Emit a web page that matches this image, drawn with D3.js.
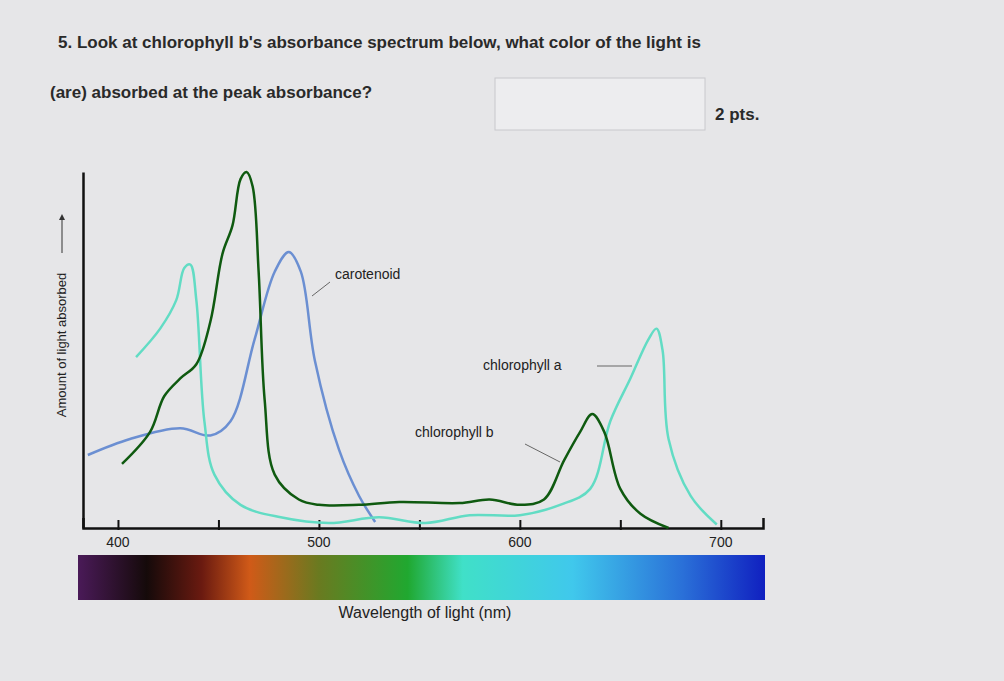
<!DOCTYPE html>
<html><head><meta charset="utf-8">
<script src="https://cdn.jsdelivr.net/npm/d3@7"></script>
<style>body{margin:0;background:#e6e6e8;}svg{display:block}</style>
</head><body>
<svg id="c" width="1004" height="681"></svg>
<script>
const chlB=[[402,18],[416,27],[423,37],[431,42],[439,46],[446,58],[452,77],[457,85],[461,98],[464,100],[467,96],[470,72],[473,36],[478,15],[490,8],[500,6.5],[520,6.5],[540,7.3],[570,7],[585,8],[600,6.5],[612,8],[622,19],[630,27],[636,32],[642,27],[650,11],[660,4],[674,0]];
const chlA=[[409,48],[421,56],[429,64],[433,73],[436,74],[439,64],[443,30],[448,15],[461,6.5],[481,3],[505,1.4],[530,3],[553,1.4],[575,3.6],[600,3.6],[620,6.5],[635,11],[645,30],[655,42],[664,53],[668,56],[671,50],[674,25],[685,9],[698,1]];
const carot=[[385,20.5],[406,25],[431,28],[446,26],[456,30],[468,53],[478,72],[485,77.5],[491,72],[498,47],[510,22],[520,9],[528,1.7]];
const ticks=[400,450,500,550,600,650,700];
const tickLabels=[400,500,600,700];
const spectrum=[[0,"#4a1a58"],[0.1,"#150a0a"],[0.18,"#6a1a10"],[0.25,"#d05a18"],[0.35,"#6a7a20"],[0.48,"#20a830"],[0.56,"#40e0c8"],[0.72,"#40c8ec"],[0.88,"#2a70d8"],[1,"#1020c0"]];

const svg=d3.select("#c");
const x=d3.scaleLinear().domain([382.6,721]).range([83,763]);
const y=d3.scaleLinear().domain([0,100]).range([528,172]);
const font="Liberation Sans, Arial, sans-serif";

svg.append("text").attr("x",58).attr("y",48).attr("font-family",font).attr("font-size",17).attr("font-weight","bold").attr("fill","#2a2a2a")
 .text("5.  Look at chlorophyll b's absorbance spectrum below, what color of the light is");
svg.append("text").attr("x",50).attr("y",98).attr("font-family",font).attr("font-size",17).attr("font-weight","bold").attr("fill","#2a2a2a")
 .text("(are) absorbed at the peak absorbance?");
svg.append("rect").attr("x",495).attr("y",78).attr("width",210).attr("height",52).attr("fill","#ededef").attr("stroke","#c8c8cc");
svg.append("text").attr("x",715).attr("y",120).attr("font-family",font).attr("font-size",17).attr("font-weight","bold").attr("fill","#2a2a2a").text("2 pts.");

const g=svg.append("defs").append("linearGradient").attr("id","sp");
spectrum.forEach(s=>g.append("stop").attr("offset",s[0]).attr("stop-color",s[1]));
svg.append("rect").attr("x",78).attr("y",555).attr("width",687).attr("height",45).attr("fill","url(#sp)");

svg.append("g").attr("transform","translate(0,528)")
 .call(d3.axisTop(x).tickValues(ticks).tickSize(10).tickFormat(""))
 .call(a=>{a.select(".domain").attr("stroke","#111").attr("stroke-width",2.5);a.selectAll(".tick line").attr("stroke","#111").attr("stroke-width",2).attr("transform","translate(0,2)");});
svg.append("g").attr("transform","translate(83,0)")
 .call(d3.axisLeft(y).tickValues([]).tickSize(0))
 .call(a=>a.select(".domain").attr("stroke","#111").attr("stroke-width",2.5));
svg.selectAll(".tl").data(tickLabels).enter().append("text").attr("x",d=>x(d)).attr("y",547).attr("text-anchor","middle")
 .attr("font-family",font).attr("font-size",14).attr("fill","#222").text(d=>d);

const line=d3.line().x(d=>x(d[0])).y(d=>y(d[1])).curve(d3.curveCatmullRom.alpha(0.5));
svg.append("path").attr("d",line(carot)).attr("fill","none").attr("stroke","#6b8fd2").attr("stroke-width",2.5);
svg.append("path").attr("d",line(chlA)).attr("fill","none").attr("stroke","#62dcc4").attr("stroke-width",2.5);
svg.append("path").attr("d",line(chlB)).attr("fill","none").attr("stroke","#0f5a10").attr("stroke-width",2.5);

const lab=(t,tx,ty)=>svg.append("text").attr("x",tx).attr("y",ty).attr("font-family",font).attr("font-size",14).attr("fill","#222").text(t);
lab("carotenoid",335,279);
svg.append("line").attr("x1",312).attr("y1",296).attr("x2",330).attr("y2",282).attr("stroke","#666");
lab("chlorophyll a",483,370);
svg.append("line").attr("x1",597).attr("y1",366).attr("x2",632).attr("y2",366).attr("stroke","#666");
lab("chlorophyll b",415,437);
svg.append("line").attr("x1",525).attr("y1",444).attr("x2",560).attr("y2",462).attr("stroke","#666");
svg.append("text").attr("x",425).attr("y",618).attr("text-anchor","middle").attr("font-family",font).attr("font-size",16).attr("fill","#222").text("Wavelength of light (nm)");

const yl=svg.append("g").attr("transform","translate(66,345) rotate(-90)");
yl.append("text").attr("x",0).attr("y",0).attr("text-anchor","middle").attr("font-family",font).attr("font-size",13).attr("fill","#222").text("Amount of light absorbed");
yl.append("line").attr("x1",92).attr("x2",125).attr("y1",-4).attr("y2",-4).attr("stroke","#333");
yl.append("path").attr("d","M125,-7 L131,-4 L125,-1 Z").attr("fill","#333");
</script></body></html>
